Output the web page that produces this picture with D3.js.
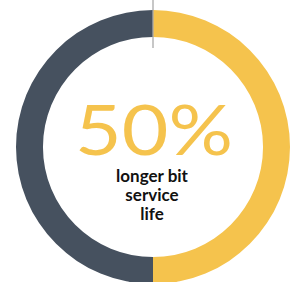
<!DOCTYPE html>
<html>
<head>
<meta charset="utf-8">
<script src="https://cdnjs.cloudflare.com/ajax/libs/d3/7.8.5/d3.min.js"></script>
<style>
  html, body { margin: 0; padding: 0; background: #fff; }
  svg { display: block; }
</style>
</head>
<body>
<script>
    // data
    var segments = ['longer life', 'baseline'];
    var values = [50, 50];
    var colors = ['#f5c34d', '#46515f'];
    var bigLabel = '50%';
    var caption = ['longer bit', 'service', 'life'];

    var w = 300, h = 282,
        cx = 153, cy = 147,
        outerR = 137, innerR = 110;

    var svg = d3.select('body').append('svg')
        .attr('width', w)
        .attr('height', h);

    var g = svg.append('g')
        .attr('transform', 'translate(' + cx + ',' + cy + ')');

    var pie = d3.pie().sort(null).value(function (d) { return d; });
    var arc = d3.arc().innerRadius(innerR).outerRadius(outerR);

    g.selectAll('path.slice')
        .data(pie(values))
        .enter().append('path')
        .attr('class', 'slice')
        .attr('d', arc)
        .attr('fill', function (d, i) { return colors[i]; });

    // divider tick at the top
    g.append('line')
        .attr('x1', 0).attr('x2', 0)
        .attr('y1', -cy).attr('y2', -cy + 48)
        .attr('stroke', '#a9a9a9')
        .attr('stroke-width', 1.3);

    // big number, stretched a bit wider like the original face
    var big = g.append('text')
        .attr('text-anchor', 'middle')
        .attr('font-family', 'Lato, sans-serif')
        .attr('font-weight', 400)
        .attr('font-size', 70)
        .attr('fill', colors[0])
        .text(bigLabel);
    var bw = big.node().getComputedTextLength();
    big.attr('transform', 'translate(1,8) scale(' + (158 / bw) + ',1)');

    // caption lines
    g.selectAll('text.cap')
        .data(caption)
        .enter().append('text')
        .attr('class', 'cap')
        .attr('x', -1)
        .attr('y', function (d, i) { return 35 + i * 19; })
        .attr('text-anchor', 'middle')
        .attr('font-family', 'Lato, sans-serif')
        .attr('font-weight', 700)
        .attr('font-size', 17)
        .attr('fill', '#111')
        .text(function (d) { return d; });
</script>
</body>
</html>
